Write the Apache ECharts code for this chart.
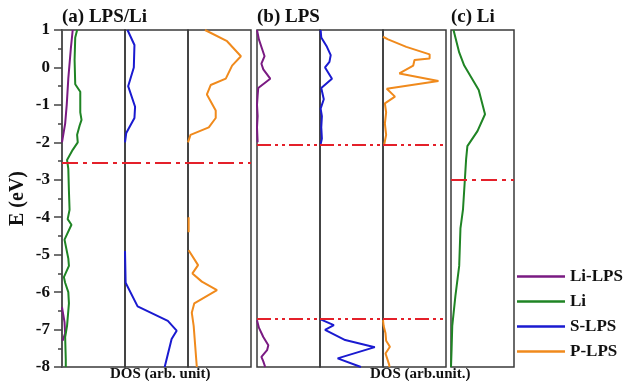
<!DOCTYPE html>
<html>
<head>
<meta charset="utf-8">
<script src="https://cdn.jsdelivr.net/npm/echarts@6/dist/echarts.min.js"></script>
<style>
html, body { margin: 0; padding: 0; background: #fff; }
#main { width: 640px; height: 381px; }
</style>
</head>
<body>
<div id="main"></div>
<script>
// [energy (eV), DOS (arb.)], null = gap in the curve
var lpsLi_LiLPS = [[1,0.17],[0.5,0.14],[-0.3,0.10],[-1.0,0.075],[-1.5,0.05],[-1.9,0.01],[-2.0,0],
    null,[-6.4,0],[-6.6,0.02],[-6.8,0.04],[-7.1,0.05],[-7.3,0.01]];
var lpsLi_Li = [[1,0.24],[0.8,0.21],[0.2,0.20],[-0.45,0.21],[-0.65,0.29],[-1.2,0.29],[-1.4,0.31],[-1.55,0.28],
    [-1.8,0.24],[-2.0,0.25],[-2.2,0.17],[-2.47,0.08],[-2.7,0.10],[-3.3,0.11],[-3.8,0.12],[-4.05,0.09],
    [-4.2,0.15],[-4.6,0.04],[-5.1,0.10],[-5.3,0.11],[-5.6,0.03],[-5.75,0.05],[-6.0,0.10],[-6.3,0.11],
    [-6.9,0.08],[-7.2,0.05],[-7.8,0.06],[-8,0.06]];
var lpsLi_S = [[1,0.04],[0.6,0.15],[0.0,0.14],[-0.5,0.05],[-1.05,0.16],[-1.35,0.15],[-1.75,0.02],[-2.0,0],
    null,[-4.9,0],[-5.75,0.01],[-6.38,0.2],[-6.77,0.68],[-7.03,0.82],[-7.25,0.74],[-8,0.63]];
var lpsLi_P = [[1,0.27],[0.7,0.62],[0.3,0.84],[0.05,0.70],[-0.3,0.6],[-0.47,0.36],[-0.72,0.30],[-1.15,0.44],
    [-1.35,0.44],[-1.6,0.33],[-1.8,0.04],[-2.0,0],null,[-4.0,0.01],[-4.4,0.01],null,[-4.88,0.01],[-5.28,0.16],
    [-5.5,0.07],[-5.72,0.22],[-5.95,0.46],[-6.3,0.10],[-6.55,0.06],[-6.9,0.09],[-8,0.14]];
var lps_LiLPS = [[1,0],[0.75,0.03],[0.5,0.08],[0.3,0.12],[0.1,0.07],[-0.05,0.10],[-0.3,0.21],[-0.55,0.02],
    [-0.75,0.01],[-1.0,0],[-1.3,0.01],[-1.6,0],[-2.0,0.01],null,[-6.75,0],[-6.95,0.03],[-7.2,0.10],
    [-7.42,0.18],[-7.55,0.16],[-7.73,0.07],[-7.85,0.10],[-8,0.13]];
var lps_S = [[1,0.01],[0.8,0.02],[0.55,0.11],[0.33,0.17],[0.15,0.15],[0.0,0.08],[-0.3,0.19],[-0.55,0.02],
    [-0.85,0.06],[-1.1,0.01],[-1.3,0.03],[-1.6,0.02],[-1.9,0.03],[-2.05,0.01],null,[-6.72,0],[-6.88,0.22],
    [-7.01,0.08],[-7.28,0.40],[-7.47,0.87],[-7.77,0.28],[-8,0.65]];
var lps_P = [[0.82,0],[0.75,0.08],[0.55,0.37],[0.35,0.74],[0.24,0.74],[0.2,0.5],[0.05,0.48],[-0.16,0.26],
    [-0.36,0.88],[-0.57,0.06],[-0.78,0.19],[-0.96,0.03],[-1.2,0.05],[-1.5,0.03],[-1.8,0.05],[-2.05,0.02],
    null,[-6.75,0],[-6.9,0.01],[-7.1,0.04],[-7.3,0.05],[-7.46,0.11],[-7.64,0.04],[-7.95,0.10],[-8,0.10]];
var li_Li = [[1,0.04],[0.4,0.13],[0.05,0.21],[-0.6,0.44],[-1.25,0.54],[-1.7,0.42],[-2.1,0.26],[-2.45,0.24],
    [-3.0,0.22],[-3.8,0.19],[-4.3,0.15],[-5.3,0.13],[-6.1,0.07],[-6.9,0.02],[-7.5,0.01],[-8,0]];

var fermiA = [-2.55];
var fermiB = [-2.07, -6.7];
var fermiC = [-3.0];

var legendNames = ['Li-LPS', 'Li', 'S-LPS', 'P-LPS'];
var colors = { 'Li-LPS': '#7a1a82', 'Li': '#1f8424', 'S-LPS': '#1a1ad0', 'P-LPS': '#f08a1c' };

var serif = 'Liberation Serif';
var gridLefts = [62, 125, 188, 257, 320, 383, 451];

function toXY(arr) {
    return arr.map(function (p) { return p ? [p[1], p[0]] : ['-', '-']; });
}

function fermiLine(vals, dash) {
    return {
        silent: true,
        symbol: 'none',
        label: { show: false },
        lineStyle: { color: '#e4202a', width: 2, type: dash },
        data: vals.map(function (v) { return { yAxis: v }; })
    };
}

function curve(name, idx, arr, mark) {
    var s = {
        name: name,
        type: 'line',
        xAxisIndex: idx,
        yAxisIndex: idx,
        symbol: 'none',
        lineStyle: { color: colors[name], width: 2 },
        itemStyle: { color: colors[name] },
        data: toXY(arr),
        z: 3
    };
    if (mark) s.markLine = mark;
    return s;
}

var dashDot = [16, 5, 4, 5];
var dashDotDot = [14, 4, 3, 4, 3, 4];
var titleFont = { fontFamily: serif, fontWeight: 'bold', fontSize: 19, color: '#111' };

var option = {
    animation: false,
    title: [
        { text: '(a) LPS/Li', left: 62, top: 8, padding: 0, textStyle: titleFont },
        { text: '(b) LPS', left: 257, top: 8, padding: 0, textStyle: titleFont },
        { text: '(c) Li', left: 451, top: 8, padding: 0, textStyle: titleFont }
    ],
    legend: {
        data: legendNames,
        orient: 'vertical',
        left: 517,
        top: 268,
        padding: 0,
        icon: 'rect',
        itemWidth: 48,
        itemHeight: 2.5,
        itemGap: 8,
        textStyle: { fontFamily: serif, fontWeight: 'bold', fontSize: 17, color: '#111' }
    },
    grid: gridLefts.map(function (l) {
        return { left: l, top: 30, width: 63, height: 337, show: true, borderColor: '#3a3a3a', borderWidth: 1.5, backgroundColor: 'transparent' };
    }),
    xAxis: gridLefts.map(function (l, i) {
        return { gridIndex: i, type: 'value', min: 0, max: 1, show: false };
    }),
    yAxis: gridLefts.map(function (l, i) {
        var ax = { gridIndex: i, type: 'value', min: -8, max: 1, interval: 1, show: i === 0, splitLine: { show: false } };
        if (i === 0) {
            ax.name = 'E (eV)';
            ax.nameLocation = 'middle';
            ax.nameGap = 34;
            ax.nameTextStyle = { fontFamily: serif, fontWeight: 'bold', fontSize: 20, color: '#111' };
            ax.axisLine = { show: true, lineStyle: { color: '#555', width: 2 } };
            ax.axisTick = { show: true, inside: false, length: 8, lineStyle: { color: '#444', width: 1.5 } };
            ax.minorTick = { show: true, splitNumber: 2, length: 4, lineStyle: { color: '#444', width: 1.5 } };
            ax.axisLabel = { fontFamily: serif, fontWeight: 'bold', fontSize: 17, color: '#111', margin: 12 };
        }
        return ax;
    }),
    graphic: [
        { type: 'text', left: 110, top: 367, style: { text: 'DOS (arb. unit)', font: 'bold 15px "Liberation Serif"', fill: '#111' } },
        { type: 'text', left: 370, top: 367, style: { text: 'DOS (arb.unit.)', font: 'bold 15px "Liberation Serif"', fill: '#111' } }
    ],
    series: [
        curve('Li-LPS', 0, lpsLi_LiLPS),
        curve('Li', 0, lpsLi_Li, fermiLine(fermiA, dashDot)),
        curve('S-LPS', 1, lpsLi_S, fermiLine(fermiA, dashDot)),
        curve('P-LPS', 2, lpsLi_P, fermiLine(fermiA, dashDot)),
        curve('Li-LPS', 3, lps_LiLPS, fermiLine(fermiB, dashDotDot)),
        curve('S-LPS', 4, lps_S, fermiLine(fermiB, dashDotDot)),
        curve('P-LPS', 5, lps_P, fermiLine(fermiB, dashDotDot)),
        curve('Li', 6, li_Li, fermiLine(fermiC, dashDot))
    ]
};

var chart = echarts.init(document.getElementById('main'));
chart.setOption(option);
</script>
</body>
</html>
